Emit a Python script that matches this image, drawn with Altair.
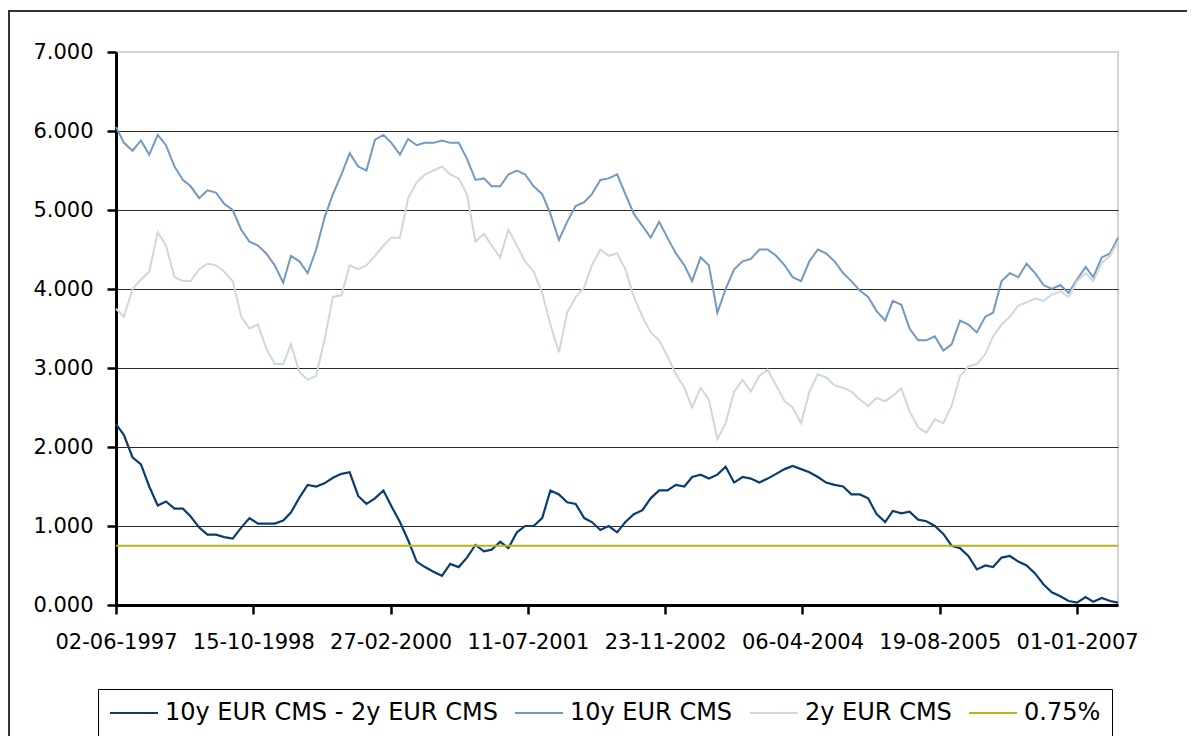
import altair as alt
import pandas as pd

# Month-by-month readings (first of month), from 02-06-1997 to end of May 2007
DATES = [
    "1997-06-02", "1997-07-01", "1997-08-01", "1997-09-01", "1997-10-01", "1997-11-01", "1997-12-01",
    "1998-01-01", "1998-02-01", "1998-03-01", "1998-04-01", "1998-05-01", "1998-06-01",
    "1998-07-01", "1998-08-01", "1998-09-01", "1998-10-01", "1998-11-01", "1998-12-01",
    "1999-01-01", "1999-02-01", "1999-03-01", "1999-04-01", "1999-05-01", "1999-06-01",
    "1999-07-01", "1999-08-01", "1999-09-01", "1999-10-01", "1999-11-01", "1999-12-01",
    "2000-01-01", "2000-02-01", "2000-03-01", "2000-04-01", "2000-05-01", "2000-06-01",
    "2000-07-01", "2000-08-01", "2000-09-01", "2000-10-01", "2000-11-01", "2000-12-01",
    "2001-01-01", "2001-02-01", "2001-03-01", "2001-04-01", "2001-05-01", "2001-06-01",
    "2001-07-01", "2001-08-01", "2001-09-01", "2001-10-01", "2001-11-01", "2001-12-01",
    "2002-01-01", "2002-02-01", "2002-03-01", "2002-04-01", "2002-05-01", "2002-06-01",
    "2002-07-01", "2002-08-01", "2002-09-01", "2002-10-01", "2002-11-01", "2002-12-01",
    "2003-01-01", "2003-02-01", "2003-03-01", "2003-04-01", "2003-05-01", "2003-06-01",
    "2003-07-01", "2003-08-01", "2003-09-01", "2003-10-01", "2003-11-01", "2003-12-01",
    "2004-01-01", "2004-02-01", "2004-03-01", "2004-04-01", "2004-05-01", "2004-06-01",
    "2004-07-01", "2004-08-01", "2004-09-01", "2004-10-01", "2004-11-01", "2004-12-01",
    "2005-01-01", "2005-02-01", "2005-03-01", "2005-04-01", "2005-05-01", "2005-06-01",
    "2005-07-01", "2005-08-01", "2005-09-01", "2005-10-01", "2005-11-01", "2005-12-01",
    "2006-01-01", "2006-02-01", "2006-03-01", "2006-04-01", "2006-05-01", "2006-06-01",
    "2006-07-01", "2006-08-01", "2006-09-01", "2006-10-01", "2006-11-01", "2006-12-01",
    "2007-01-01", "2007-02-01", "2007-03-01", "2007-04-01", "2007-05-01", "2007-05-30",
]

CMS10 = [
    6.05, 5.85, 5.75, 5.88, 5.70, 5.95, 5.82,
    5.55, 5.38, 5.30, 5.15, 5.25, 5.22, 5.08, 5.00, 4.75, 4.60, 4.55, 4.45,
    4.30, 4.08, 4.42, 4.35, 4.20, 4.50, 4.90, 5.20, 5.45, 5.72, 5.55, 5.50,
    5.89, 5.95, 5.85, 5.70, 5.90, 5.82, 5.85, 5.85, 5.88, 5.85, 5.85, 5.65,
    5.38, 5.40, 5.30, 5.30, 5.45, 5.50, 5.45, 5.30, 5.20, 4.95, 4.62, 4.85,
    5.05, 5.10, 5.20, 5.38, 5.40, 5.45, 5.20, 4.95, 4.80, 4.65, 4.85, 4.65,
    4.45, 4.30, 4.10, 4.40, 4.30, 3.70, 4.00, 4.25, 4.35, 4.38, 4.50, 4.50,
    4.42, 4.30, 4.15, 4.10, 4.35, 4.50, 4.45, 4.35, 4.20, 4.10, 3.98, 3.90,
    3.72, 3.60, 3.85, 3.80, 3.50, 3.35, 3.35, 3.40, 3.22, 3.30, 3.60, 3.55,
    3.45, 3.65, 3.70, 4.10, 4.20, 4.15, 4.32, 4.20, 4.05, 4.00, 4.05, 3.95,
    4.12, 4.28, 4.15, 4.40, 4.45, 4.65,
]

CMS2 = [
    3.75, 3.65, 4.00, 4.12, 4.22, 4.72, 4.55,
    4.15, 4.10, 4.10, 4.25, 4.32, 4.30, 4.22, 4.10, 3.65, 3.50, 3.55, 3.25,
    3.05, 3.05, 3.30, 2.95, 2.85, 2.90, 3.35, 3.90, 3.92, 4.30, 4.25, 4.30,
    4.42, 4.55, 4.65, 4.65, 5.15, 5.35, 5.45, 5.50, 5.55, 5.45, 5.40, 5.20,
    4.60, 4.70, 4.55, 4.40, 4.75, 4.55, 4.35, 4.22, 3.95, 3.55, 3.20, 3.70,
    3.90, 4.02, 4.30, 4.50, 4.42, 4.45, 4.25, 3.90, 3.65, 3.45, 3.35, 3.15,
    2.92, 2.75, 2.50, 2.75, 2.60, 2.10, 2.30, 2.70, 2.85, 2.70, 2.90, 2.98,
    2.78, 2.58, 2.50, 2.30, 2.70, 2.92, 2.88, 2.78, 2.75, 2.70, 2.60, 2.52,
    2.62, 2.58, 2.65, 2.74, 2.45, 2.25, 2.18, 2.35, 2.30, 2.52, 2.90, 3.02,
    3.05, 3.18, 3.40, 3.55, 3.65, 3.79, 3.83, 3.88, 3.85, 3.93, 3.97, 3.90,
    4.10, 4.20, 4.10, 4.33, 4.42, 4.60,
]

SPREAD = [
    2.29, 2.15, 1.87, 1.78, 1.50, 1.26, 1.31,
    1.22, 1.22, 1.12, 0.98, 0.89, 0.89, 0.86, 0.84, 0.98, 1.10, 1.03, 1.03,
    1.03, 1.07, 1.17, 1.36, 1.52, 1.50, 1.54, 1.61, 1.66, 1.68, 1.38, 1.28,
    1.35, 1.45, 1.25, 1.05, 0.82, 0.55, 0.48, 0.42, 0.37, 0.52, 0.48, 0.60,
    0.76, 0.68, 0.70, 0.80, 0.72, 0.92, 1.00, 1.00, 1.10, 1.45, 1.40, 1.30,
    1.28, 1.10, 1.05, 0.95, 1.00, 0.92, 1.05, 1.15, 1.20, 1.35, 1.45, 1.45,
    1.52, 1.50, 1.62, 1.65, 1.60, 1.65, 1.75, 1.55, 1.62, 1.60, 1.55, 1.60,
    1.66, 1.72, 1.76, 1.72, 1.68, 1.62, 1.55, 1.52, 1.50, 1.40, 1.40, 1.35,
    1.15, 1.05, 1.19, 1.16, 1.18, 1.08, 1.06, 1.00, 0.90, 0.75, 0.72, 0.62,
    0.45, 0.50, 0.48, 0.60, 0.62, 0.55, 0.50, 0.40, 0.26, 0.16, 0.11, 0.05,
    0.03, 0.10, 0.04, 0.09, 0.05, 0.03,
]

LEVEL_DATES = ["1997-06-02", "2007-05-30"]
LEVEL = [0.75, 0.75]

SERIES = ["10y EUR CMS - 2y EUR CMS", "10y EUR CMS", "2y EUR CMS", "0.75%"]
COLORS = ["#0B3C6F", "#7399C2", "#CCD8E0", "#B5B517"]

X_TICKS = ["1997-06-02", "1998-10-15", "2000-02-27", "2001-07-11",
           "2002-11-23", "2004-04-06", "2005-08-19", "2007-01-01"]
X_DOMAIN = ["1997-06-02", "2007-05-30"]
Y_TICKS = [0, 1, 2, 3, 4, 5, 6, 7]

FONT = "DejaVu Sans"


def dt(s):
    y, m, d = (int(p) for p in s.split("-"))
    return alt.DateTime(year=y, month=m, date=d, utc=True)


frames = []
for name, vals in zip(SERIES[:3], [SPREAD, CMS10, CMS2]):
    frames.append(pd.DataFrame({"date": DATES, "value": vals, "series": name}))
frames.append(pd.DataFrame({"date": LEVEL_DATES, "value": LEVEL, "series": SERIES[3]}))
df = pd.concat(frames, ignore_index=True)

common_axis = dict(
    title=None,
    domainColor="black",
    domainWidth=3,
    tickColor="black",
    tickWidth=2.5,
    tickSize=9,
    labelFont=FONT,
    labelFontSize=21,
    labelColor="black",
)

x_enc = alt.X(
    "date:T",
    scale=alt.Scale(type="utc", domain=[dt(s) for s in X_DOMAIN]),
    axis=alt.Axis(
        values=[dt(s) for s in X_TICKS],
        labelExpr="utcFormat(datum.value, '%d-%m-%Y')",
        labelFlush=False,
        labelOverlap=False,
        grid=False,
        labelPadding=17,
        **common_axis,
    ),
)
y_enc = alt.Y(
    "value:Q",
    scale=alt.Scale(domain=[0, 7], nice=False),
    axis=alt.Axis(
        values=Y_TICKS,
        labelExpr="format(datum.value, '.3f')",
        grid=True,
        gridColor={"condition": {"test": "datum.value == 7", "value": "#D4D4D4"}, "value": "#2b2b2b"},
        gridWidth=1,
        labelPadding=14,
        **common_axis,
    ),
)
color_enc = alt.Color(
    "series:N",
    scale=alt.Scale(domain=SERIES, range=COLORS),
    legend=alt.Legend(
        title=None,
        orient="none",
        legendX=-18,
        legendY=637,
        direction="horizontal",
        symbolType="M-1,0H3",
        symbolSize=576,
        symbolStrokeWidth=2,
        labelFont=FONT,
        labelFontSize=24,
        labelColor="black",
        labelLimit=500,
        labelOffset=30,
        columnPadding=13,
        padding=11,
        strokeColor="black",
        fillColor="white",
        cornerRadius=0,
    ),
)

base = alt.Chart(df)
layers = []
for name, w in zip(SERIES, [2.2, 2, 2, 2]):
    layers.append(
        base.transform_filter(alt.datum.series == name)
        .mark_line(strokeWidth=w)
        .encode(x=x_enc, y=y_enc, color=color_enc)
    )

frame = (
    alt.Chart(pd.DataFrame({"k": [0]}))
    .mark_rect(fillOpacity=0, stroke="#333333", strokeWidth=2)
    .encode(x=alt.value(-107), x2=alt.value(1200), y=alt.value(-41), y2=alt.value(760))
)

chart = (
    alt.layer(*layers, frame)
    .properties(
        width=1002,
        height=553,
        autosize=alt.AutoSizeParams(type="none"),
        padding={"left": 108, "top": 44, "right": 69, "bottom": 131},
        background="white",
    )
    .configure_view(stroke="#D4D4D4", strokeWidth=2)
)

chart.save("out.html", embed_options={"renderer": "svg", "actions": False})
